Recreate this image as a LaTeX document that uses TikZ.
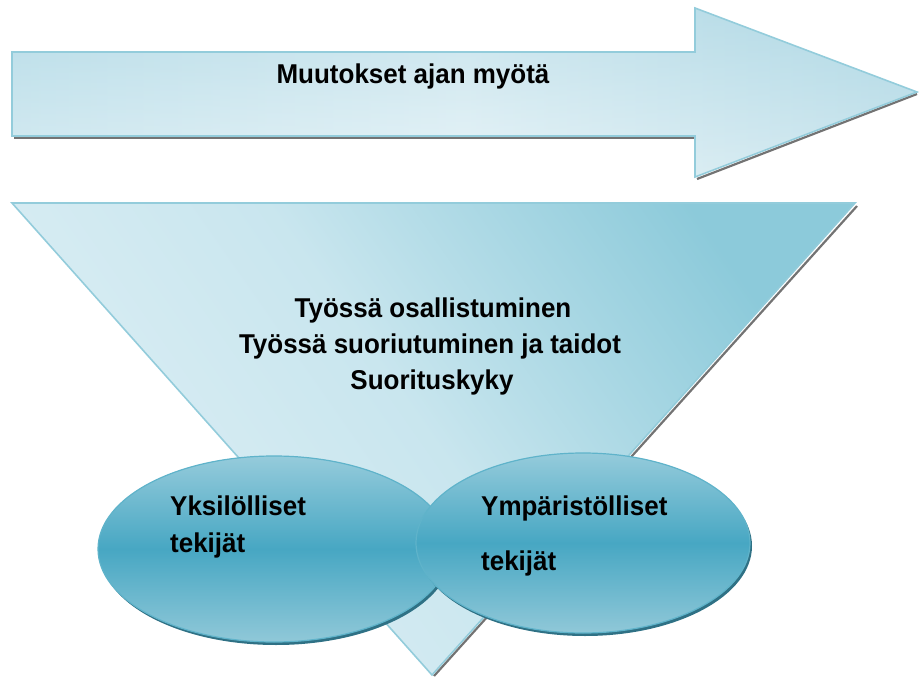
\documentclass[tikz,border=0pt]{standalone}
\usepackage{fontspec}
\setmainfont[FakeStretch=0.955]{Liberation Sans}
\definecolor{cA}{HTML}{C2E2EC}
\definecolor{cM}{HTML}{DCEEF4}
\definecolor{cB}{HTML}{B3DAE6}
\definecolor{cT}{HTML}{A5D3E1}
\definecolor{cO}{HTML}{93CCDB}
\definecolor{dA}{HTML}{DDEFF5}
\definecolor{dB}{HTML}{8CCADA}
\definecolor{eT}{HTML}{95CBDB}
\definecolor{eM}{HTML}{47A7C3}
\definecolor{eB}{HTML}{90C8D8}
\definecolor{eS}{HTML}{2F7185}
\definecolor{eO}{HTML}{5FB3CA}
\begin{document}
\begin{tikzpicture}[x=1pt,y=-1pt,
  lbl/.style={font=\fontsize{27.2}{36}\selectfont\bfseries, text=black, inner sep=0pt},
  outl/.style={draw=#1, line width=1.6pt, line join=miter},
  shad/.style={draw=black!55, line width=2.2pt}]
\useasboundingbox (0,0) rectangle (919,677);
% ---- big arrow ----
\coordinate (a1) at (12,52);
\coordinate (a2) at (695,52);
\coordinate (a3) at (695,8);
\coordinate (a4) at (917,92);
\coordinate (a5) at (695,177);
\coordinate (a6) at (695,136);
\coordinate (a7) at (12,136);
\draw[shad] ([shift={(2,2)}]a7) -- ([shift={(0,2)}]a6);
\draw[shad] ([shift={(2,2)}]a5) -- ([shift={(0,2)}]a4);
\shade[left color=cA, right color=cB, middle color=cM] (a1) -- (a2) -- (a3) -- (a4) -- (a5) -- (a6) -- (a7) -- cycle;
\shade[top color=cT, bottom color=white, opacity=0.35] (a1) -- (a2) -- (a3) -- (a4) -- (a5) -- (a6) -- (a7) -- cycle;
\draw[outl=cO] (a1) -- (a2) -- (a3) -- (a4) -- (a5) -- (a6) -- (a7) -- cycle;
\node[lbl, anchor=base] (arrowtxt) at (413,84) {Muutokset ajan myötä};
% ---- triangle ----
\coordinate (t1) at (12,203);
\coordinate (t2) at (855,203);
\coordinate (t3) at (432,675);
\draw[shad] ([shift={(2,3)}]t2) -- ([shift={(2,1)}]t3);
\shade[top color=dB, bottom color=dA, middle color=dA!75!dB, shading angle=-55] (t1) -- (t2) -- (t3) -- cycle;
\draw[outl=cO] (t1) -- (t2) -- (t3) -- cycle;
\node[lbl, anchor=base] (l1) at (433,317) {Työssä osallistuminen};
\node[lbl, anchor=base] (l2) at (430,353) {Työssä suoriutuminen ja taidot};
\node[lbl, anchor=base] (l3) at (432,389) {Suorituskyky};
% ---- ellipses ----
\fill[eS] (276,552) ellipse [x radius=176, y radius=93];
\shade[top color=eT, bottom color=eB, middle color=eM] (274,549) ellipse [x radius=176, y radius=93];
\draw[eO, line width=1.2pt] (274,549) ellipse [x radius=176, y radius=93];
\fill[eS] (585,546) ellipse [x radius=167, y radius=90];
\shade[top color=eT, bottom color=eB, middle color=eM] (583,543) ellipse [x radius=167, y radius=90];
\draw[eO, line width=1.2pt] (583,543) ellipse [x radius=167, y radius=90];
\node[lbl, anchor=base west] (y1) at (170,515) {Yksilölliset};
\node[lbl, anchor=base west] (y2) at (170,552) {tekijät};
\node[lbl, anchor=base west] (z1) at (481,515) {Ympäristölliset};
\node[lbl, anchor=base west] (z2) at (481,570) {tekijät};
\end{tikzpicture}
\end{document}
